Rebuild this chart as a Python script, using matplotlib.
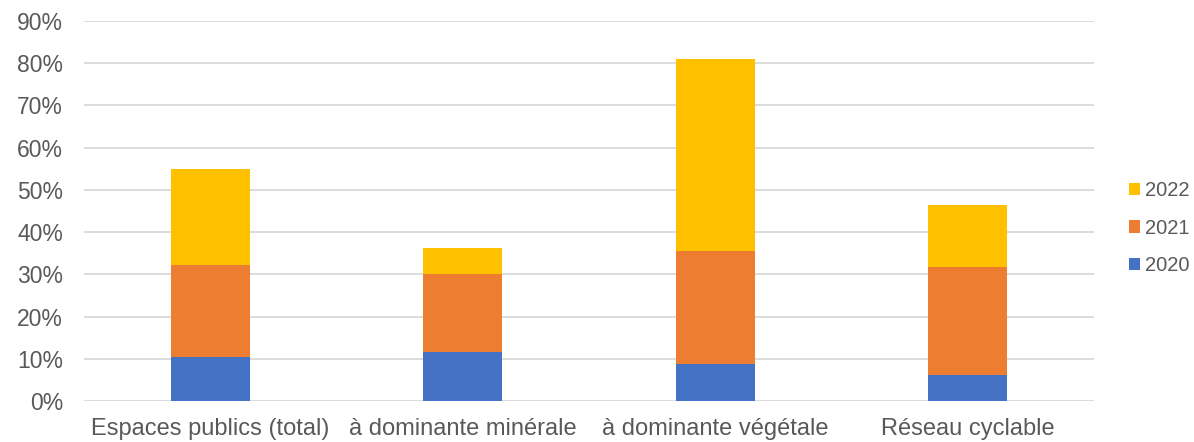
import matplotlib.pyplot as plt
import numpy as np

plt.rcParams['font.family'] = ['Liberation Sans', 'DejaVu Sans']

# Categories and stacked shares (%) per year
categories = ["Espaces publics (total)", "à dominante minérale",
              "à dominante végétale", "Réseau cyclable"]
years = ["2020", "2021", "2022"]
v2020 = [10.5, 11.7, 8.8, 6.1]
v2021 = [21.7, 18.3, 26.8, 25.6]
v2022 = [22.7, 6.2, 45.4, 14.6]
colors = ["#4472C4", "#ED7D31", "#FFC000"]

text_color = "#595959"
grid_color = "#D9D9D9"

fig = plt.figure(figsize=(11.94, 4.42), dpi=100)
ax = fig.add_axes([0.0704, 0.0928, 0.8458, 0.8597])

x = np.arange(len(categories))
bottom = np.zeros(len(categories))
handles = []
for year, vals, c in zip(years, [v2020, v2021, v2022], colors):
    vals = np.array(vals) / 100
    h = ax.bar(x, vals, width=0.313, bottom=bottom, color=c, label=year, zorder=3)
    handles.append(h)
    bottom += vals

ax.set_xlim(-0.5, len(categories) - 0.5)
ax.set_ylim(0, 0.9)
ticks = np.arange(0, 0.91, 0.1)
ax.set_yticks(ticks)
ax.set_yticklabels([f"{int(round(t * 100))}%" for t in ticks])
ax.set_xticks(x)
ax.set_xticklabels(categories)

ax.yaxis.grid(True, color=grid_color, linewidth=1.3, zorder=0)
for s in ax.spines.values():
    s.set_visible(False)
ax.tick_params(axis='both', length=0, colors=text_color)
ax.tick_params(axis='y', pad=15, labelsize=16.5)
ax.tick_params(axis='x', pad=12, labelsize=17)

leg = fig.legend(handles[::-1], years[::-1], loc='center left',
                 bbox_to_anchor=(1129 / 1194, 0.484), frameon=False,
                 fontsize=14.5, borderpad=0, borderaxespad=0,
                 handlelength=0.55, handleheight=0.55, handletextpad=0.25,
                 labelspacing=0.9)
for t in leg.get_texts():
    t.set_color(text_color)

fig.savefig("out.png", dpi=100)
